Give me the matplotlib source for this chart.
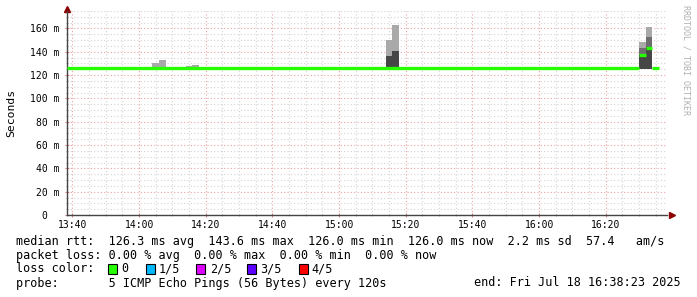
import matplotlib
matplotlib.use("Agg")
import matplotlib.pyplot as plt
import matplotlib.dates as mdates
from matplotlib.patches import Rectangle
from matplotlib.ticker import MultipleLocator, FuncFormatter
import pandas as pd

DAY = "2025-07-18 "
t_start = "13:38:23"
t_end = "16:38:23"

# median rtt in ms, drawn as flat segments (from, to, value)
median_from = ["13:38:23", "16:30", "16:32", "16:34"]
median_to = ["16:30", "16:32", "16:34", "16:36"]
median_ms = [126.0, 137.5, 143.6, 126.0]

# smoke, one 2 minute step each: band tops in ms
smoke_step = ["14:04", "14:06", "14:14", "14:16", "15:14", "15:16", "16:30", "16:32"]
smoke_min = [126.0, 126.0, 126.0, 126.0, 125.5, 125.5, 125.5, 125.5]
smoke_dark = [126.0, 126.0, 126.0, 126.0, 136.2, 140.5, 137.8, 144.3]
smoke_mid = [126.0, 126.0, 126.0, 126.0, 136.2, 140.5, 143.5, 153.0]
smoke_max = [130.7, 133.3, 127.8, 129.0, 149.8, 163.1, 148.1, 161.1]

loss_labels = ["0", "1/5", "2/5", "3/5", "4/5"]
loss_colors = ["#26ff00", "#00b8ff", "#dd00ff", "#5e00ff", "#ff0000"]

legend_lines = [
    "median rtt:  126.3 ms avg  143.6 ms max  126.0 ms min  126.0 ms now  2.2 ms sd  57.4   am/s",
    "packet loss: 0.00 % avg  0.00 % max  0.00 % min  0.00 % now",
    "loss color:",
    "probe:       5 ICMP Echo Pings (56 Bytes) every 120s",
]
end_text = "end: Fri Jul 18 16:38:23 2025"

W, H = 697, 297
MONO = "DejaVu Sans Mono"


def ts(s):
    return mdates.date2num(pd.Timestamp(DAY + s))


def fx(px):
    return px / W


def fy(py):
    return 1 - py / H


fig = plt.figure(figsize=(W / 100, H / 100), dpi=100)
ax = fig.add_axes([fx(67), fy(215), 600 / W, 204 / H])

step = 2 / 1440
for i, s in enumerate(smoke_step):
    x0 = ts(s)
    ax.bar(x0, smoke_dark[i] - smoke_min[i], width=step, bottom=smoke_min[i],
           align="edge", color="#464646", lw=0, zorder=2)
    ax.bar(x0, smoke_mid[i] - smoke_dark[i], width=step, bottom=smoke_dark[i],
           align="edge", color="#6e6e6e", lw=0, zorder=2)
    ax.bar(x0, smoke_max[i] - smoke_mid[i], width=step, bottom=smoke_mid[i],
           align="edge", color="#a9a9a9", lw=0, zorder=2)

ax.hlines(median_ms, [ts(a) for a in median_from], [ts(b) for b in median_to],
          colors="#26ff00", lw=2.4, zorder=3)

ax.set_xlim(ts(t_start), ts(t_end))
ax.set_ylim(0, 175)

ax.xaxis.set_major_locator(mdates.MinuteLocator(byminute=[0, 20, 40]))
ax.xaxis.set_minor_locator(mdates.MinuteLocator(byminute=range(0, 60, 5)))
ax.xaxis.set_major_formatter(mdates.DateFormatter("%H:%M"))
ax.yaxis.set_major_locator(MultipleLocator(20))
ax.yaxis.set_minor_locator(MultipleLocator(5))
ax.yaxis.set_major_formatter(FuncFormatter(lambda v, p: "0  " if v == 0 else "%d m" % v))

ax.grid(which="minor", color="#d4d4d4", linestyle=(0, (1, 2)), lw=0.8, zorder=0)
ax.grid(which="major", color="#eba3a3", linestyle=(0, (1, 2)), lw=0.8, zorder=0)
ax.set_axisbelow(True)

for side in ["top", "right"]:
    ax.spines[side].set_visible(False)
for side in ["left", "bottom"]:
    ax.spines[side].set_color("#444444")
    ax.spines[side].set_linewidth(1.0)

ax.tick_params(which="major", length=3, width=0.8, color="#e08080", direction="inout",
               labelsize=7, pad=4)
ax.tick_params(axis="x", which="major", pad=2)
ax.tick_params(which="minor", length=2, width=0.6, color="#aaaaaa", direction="inout")
for lab in ax.get_xticklabels() + ax.get_yticklabels():
    lab.set_family(MONO)

# axis arrows
ax.plot([1.008], [0], marker=">", ms=4, color="#8b0000", transform=ax.transAxes, clip_on=False)
ax.plot([0], [1.012], marker="^", ms=4, color="#8b0000", transform=ax.transAxes, clip_on=False)

fig.text(fx(11), fy(113), "Seconds", rotation=90, ha="center", va="center",
         family=MONO, fontsize=8.2)
fig.text(fx(686), fy(5), "RRDTOOL / TOBI OETIKER", rotation=270, ha="center", va="top",
         family=MONO, fontsize=6, color="#b0b0b0")

# legend block
line_y = [241, 255, 269, 283]
for txt, y in zip(legend_lines, line_y):
    fig.text(fx(16), fy(y), txt, ha="left", va="center", family=MONO, fontsize=8.5)
fig.text(fx(681), fy(283), end_text, ha="right", va="center", family=MONO, fontsize=8.5)

box_x = [108, 146, 196, 247, 299]
text_x = [121, 159, 210, 260, 311]
for bx, tx, lab, col in zip(box_x, text_x, loss_labels, loss_colors):
    fig.patches.append(Rectangle((fx(bx), fy(274)), 9 / W, 10 / H, transform=fig.transFigure,
                                 facecolor=col, edgecolor="black", lw=0.8))
    fig.text(fx(tx), fy(269), lab, ha="left", va="center", family=MONO, fontsize=8.5)

fig.savefig("out.png", dpi=100)
